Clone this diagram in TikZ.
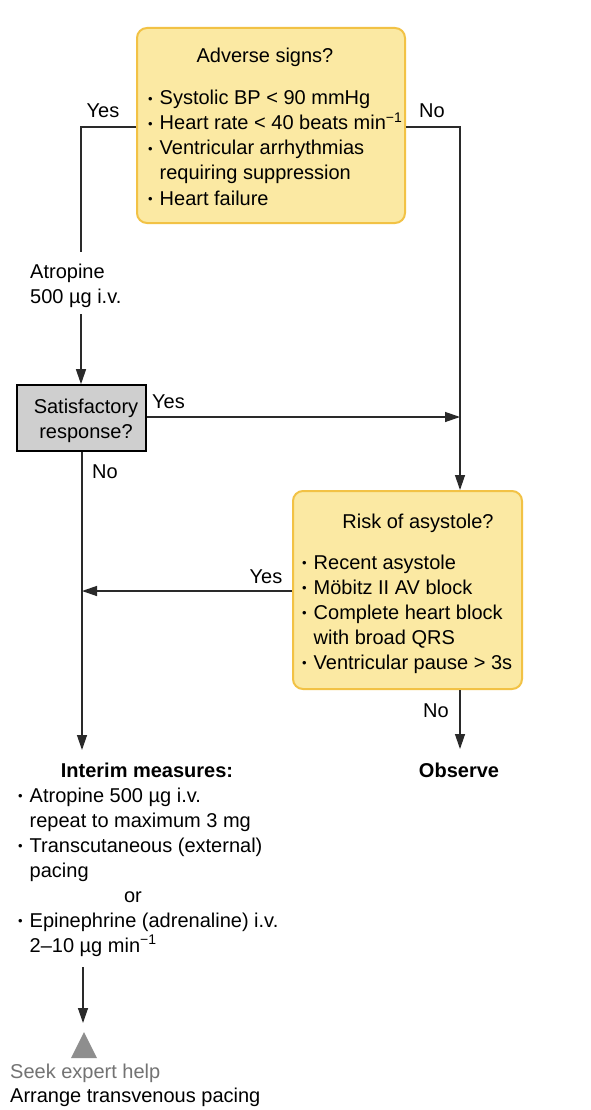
\documentclass[tikz,border=0pt]{standalone}
\usepackage{fontspec}
\setmainfont{Liberation Sans}
\usetikzlibrary{arrows.meta}
\definecolor{boxfill}{HTML}{FBE9A3}
\definecolor{boxline}{HTML}{F2C245}
\definecolor{grayfill}{HTML}{CFCFCF}
\definecolor{trigray}{HTML}{8E8E8E}
\definecolor{linecol}{HTML}{2A2A2A}
\newcommand\bul{\makebox[11.5pt][l]{\raisebox{1.3pt}{\fontsize{13}{13}\selectfont •}}}
\tikzset{
  yellowbox/.style={draw=boxline, line width=2pt, fill=boxfill, rounded corners=10pt, inner sep=0pt},
  graybox/.style={draw=black, line width=1.6pt, fill=grayfill, inner sep=0pt},
  txt/.style={anchor=base west, inner sep=0pt},
  ctxt/.style={anchor=base, inner sep=0pt},
  conn/.style={line width=1.3pt, draw=linecol},
  arr/.style={conn, -{Triangle[length=15pt,width=10pt]}},
}
\begin{document}
\begin{tikzpicture}[x=1pt,y=-1pt, font=\fontsize{20}{25}\selectfont]
\useasboundingbox[fill=white] (0,0) rectangle (591,1110);

% boxes
\node[yellowbox, minimum width=268pt, minimum height=195pt] (adv) at (271,125.5) {};
\node[graybox, minimum width=129pt, minimum height=66pt] (sat) at (81.5,418) {};
\node[yellowbox, minimum width=229pt, minimum height=198pt] (risk) at (407.5,590) {};

% adverse signs text
\node[ctxt] (advT) at (265,63) {Adverse signs?};
\node[txt] (adv1) at (148,105) {\bul Systolic BP < 90 mmHg};
\node[txt] (adv2) at (148,130) {\bul Heart rate < 40 beats min\textsuperscript{−1}};
\node[txt] (adv3) at (148,155) {\bul Ventricular arrhythmias};
\node[txt] (adv4) at (159.5,180) {requiring suppression};
\node[txt] (adv5) at (148,205) {\bul Heart failure};

% satisfactory text
\node[ctxt] (sat1) at (86,413) {Satisfactory};
\node[ctxt] (sat2) at (86,438) {response?};

% risk text
\node[ctxt] (riskT) at (418,528) {Risk of asystole?};
\node[txt] (risk1) at (302,569) {\bul Recent asystole};
\node[txt] (risk2) at (302,594) {\bul Möbitz II AV block};
\node[txt] (risk3) at (302,619) {\bul Complete heart block};
\node[txt] (risk4) at (313.5,644) {with broad QRS};
\node[txt] (risk5) at (302,669) {\bul Ventricular pause > 3s};

% labels
\node[ctxt] (yes1) at (103,118) {Yes};
\node[ctxt] (no1) at (432,118) {No};
\node[txt] (atro1) at (30,278) {Atropine};
\node[txt] (atro2) at (30,303) {500 µg i.v.};
\node[txt] (yes2) at (152,408) {Yes};
\node[ctxt] (no2) at (105,478) {No};
\node[ctxt] (yes3) at (266,583) {Yes};
\node[ctxt] (no3) at (436,717) {No};

% bottom texts
\node[ctxt] (obs) at (459,777) {\bfseries Observe};
\node[ctxt] (intT) at (147,777) {\bfseries Interim measures:};
\node[txt] (int1) at (18,802) {\bul Atropine 500 µg i.v.};
\node[txt] (int2) at (29.5,827) {repeat to maximum 3 mg};
\node[txt] (int3) at (18,852) {\bul Transcutaneous (external)};
\node[txt] (int4) at (29.5,877) {pacing};
\node[ctxt] (intor) at (133,902) {or};
\node[txt] (int5) at (18,927) {\bul Epinephrine (adrenaline) i.v.};
\node[txt] (int6) at (29.5,952) {2–10 µg min\textsuperscript{−1}};

\node[fill=trigray, draw=none, inner sep=0pt, minimum size=0pt] (tri) at (84,1045) {};
\fill[trigray] (71,1058) -- (84,1032) -- (97,1058) -- cycle;
\node[txt, text=black!55] (seek) at (10,1078) {Seek expert help};
\node[txt] (arrange) at (10,1102) {Arrange transvenous pacing};

% coordinates
\coordinate (lTop) at (81,127);
\coordinate (lEnd) at (81,252);
\coordinate (lStart2) at (81,314);
\coordinate (rTop) at (460,127);
\coordinate (rJoin) at (460,417);
\coordinate (lJoin) at (82,591);
\coordinate (lBot) at (82,750);
\coordinate (rBot) at (460,749);
\coordinate (iStart) at (83,967);
\coordinate (iEnd) at (83,1023);

% connectors
\draw[conn] (adv.west |- lTop) -- (lTop) -- (lEnd);
\draw[arr] (lStart2) -- (sat.north -| lStart2);
\draw[arr] (adv.east |- rTop) -- (rTop) -- (risk.north -| rTop);
\draw[arr] (sat.east |- rJoin) -- (rJoin);
\draw[arr] (risk.west |- lJoin) -- (lJoin);
\draw[arr] (sat.south -| lBot) -- (lBot);
\draw[arr] (risk.south -| rBot) -- (rBot);
\draw[arr] (iStart) -- (iEnd);
\end{tikzpicture}
\end{document}
